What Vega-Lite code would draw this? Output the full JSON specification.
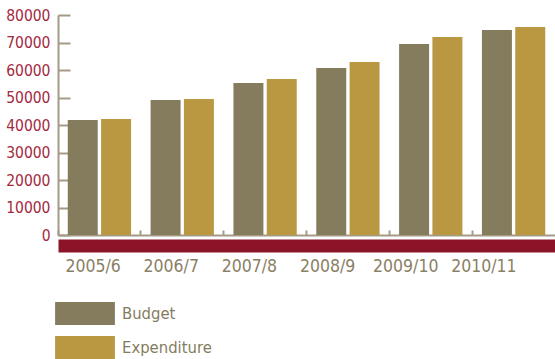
{
  "$schema": "https://vega.github.io/schema/vega-lite/v6.json",
  "autosize": "none",
  "width": 497,
  "height": 220,
  "padding": {"left": 58, "top": 15, "right": 0, "bottom": 124},
  "background": "white",
  "config": {"view": {"stroke": null}, "font": "DejaVu Sans Condensed"},
  "data": {"values": [
    {"year": "2005/6", "series": "Budget", "value": 41800},
    {"year": "2005/6", "series": "Expenditure", "value": 42200},
    {"year": "2006/7", "series": "Budget", "value": 49100},
    {"year": "2006/7", "series": "Expenditure", "value": 49450},
    {"year": "2007/8", "series": "Budget", "value": 55270},
    {"year": "2007/8", "series": "Expenditure", "value": 56730},
    {"year": "2008/9", "series": "Budget", "value": 60730},
    {"year": "2008/9", "series": "Expenditure", "value": 62900},
    {"year": "2009/10", "series": "Budget", "value": 69450},
    {"year": "2009/10", "series": "Expenditure", "value": 72000},
    {"year": "2010/11", "series": "Budget", "value": 74550},
    {"year": "2010/11", "series": "Expenditure", "value": 75640}
  ]},
  "layer": [
    {
      "mark": {"type": "bar"},
      "encoding": {
        "x": {"field": "year", "type": "nominal", "sort": null,
          "scale": {"paddingInner": 0, "paddingOuter": 0},
          "axis": {"orient": "bottom", "title": null, "labels": false, "bandPosition": 0,
            "domainColor": "#a39b86", "domainWidth": 2, "tickColor": "#a39b86", "tickWidth": 2, "tickSize": -5}},
        "xOffset": {"field": "series", "type": "nominal", "scale": {"paddingInner": 0.1, "paddingOuter": 0.293}},
        "y": {"field": "value", "type": "quantitative",
          "scale": {"domain": [0, 80000], "nice": false},
          "axis": {"title": null, "grid": false, "values": [0,10000,20000,30000,40000,50000,60000,70000,80000],
            "tickCount": 20, "format": "d", "labelOverlap": false, "domainColor": "#a39b86", "domainWidth": 2, "tickColor": "#a39b86", "tickWidth": 2,
            "tickSize": -12, "labelPadding": 20, "labelColor": "#a3293f", "labelFontSize": 15.5,
            "labelFont": "DejaVu Sans Condensed"}},
        "color": {"field": "series", "type": "nominal",
          "scale": {"domain": ["Budget", "Expenditure"], "range": ["#857c5e", "#b99841"]},
          "legend": {"title": null, "orient": "none", "legendX": 15.5, "legendY": 287, "direction": "vertical",
            "symbolType": "M-2.6,-1H2.6V1H-2.6Z", "symbolSize": 529, "symbolStrokeWidth": 0,
            "labelFontSize": 16.5, "labelColor": "#857c5e", "labelOffset": 25.5, "rowPadding": 11,
            "labelFont": "DejaVu Sans Condensed"}}
      }
    },
    {
      "mark": {"type": "tick", "opacity": 0},
      "encoding": {
        "x": {"field": "year", "type": "nominal", "sort": null,
          "scale": {"paddingInner": 0, "paddingOuter": 0.179, "align": 0},
          "axis": {"orient": "bottom", "title": null, "offset": 10.5, "ticks": false,
            "domainColor": "#8c1428", "domainWidth": 13, "labelOffset": -4, "labelPadding": 12,
            "labelColor": "#8a8065", "labelFontSize": 17.5, "labelAngle": 0,
            "labelFont": "DejaVu Sans Condensed"}}
      }
    }
  ],
  "resolve": {"scale": {"x": "independent"}, "axis": {"x": "independent"}}
}
